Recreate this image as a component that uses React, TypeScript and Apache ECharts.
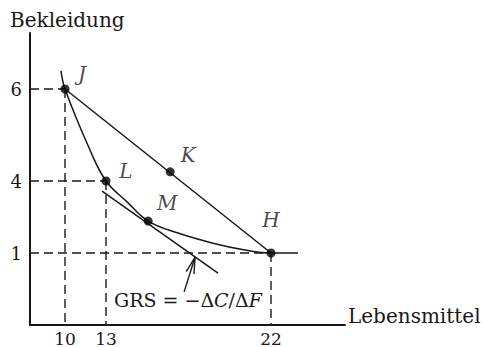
import React, { useEffect, useRef } from 'react';
import * as echarts from 'echarts';

// ---- Data (economic units) ----
const xTickValues = [10, 13, 22];
const yTickValues = [6, 4, 1];
const xAxisName = 'Lebensmittel';
const yAxisName = 'Bekleidung';

const pointNames = ['J', 'K', 'L', 'M', 'H'];
const pointX = [10, 16.5, 13, 15.3, 22];
const pointY = [6, 4.2, 4, 2.33, 1];

// points with dashed guides to both axes
const guideNames = ['J', 'L', 'H'];

// indifference curve
const curveX = [8.86, 10, 11.7, 13, 14.15, 15.3, 16.93, 18.78, 20.58, 22, 23.47];
const curveY = [6.39, 6, 4.76, 4, 3.13, 2.33, 1.83, 1.42, 1.125, 1, 1];

// tangent at M
const tangentX = [12.71, 19.11];
const tangentY = [3.58, 0.72];

// annotation arrow (tail -> tip)
const arrowX = [17.26, 17.86];
const arrowY = [0.46, 0.944];
const annotationPos = [17.47, 0.35];

// The original diagram is not drawn to scale: piecewise scale (value -> axis position)
const xScaleIn = [0, 10, 13, 22, 26.04];
const xScaleOut = [0, 35, 76, 241, 315];
const yScaleIn = [0, 1, 4, 6, 7.2];
const yScaleOut = [0, 72, 144, 236, 292];

function warp(v: number, ins: number[], outs: number[]): number {
  for (let i = 0; i < ins.length - 1; i++) {
    if (v <= ins[i + 1] || i === ins.length - 2) {
      const t = (v - ins[i]) / (ins[i + 1] - ins[i]);
      return outs[i] + t * (outs[i + 1] - outs[i]);
    }
  }
  return outs[outs.length - 1];
}
const sx = (v: number) => warp(v, xScaleIn, xScaleOut);
const sy = (v: number) => warp(v, yScaleIn, yScaleOut);

const INK = '#1a1718';
const FONT = 'DejaVu Serif';

const labelOffsets: Record<string, [number, number]> = {
  J: [17, -15],
  K: [18, -17],
  L: [20, -10],
  M: [19, -18],
  H: [0, -33],
};

function nearestLabel(v: number, ticks: number[], scale: (n: number) => number) {
  let best = ticks[0];
  let bd = Infinity;
  for (const t of ticks) {
    const d = Math.abs(scale(t) - v);
    if (d < bd) { bd = d; best = t; }
  }
  return String(best);
}

export default function App() {
  const ref = useRef<HTMLDivElement>(null);
  useEffect(() => {
    if (!ref.current) return;
    const chart = echarts.init(ref.current, undefined, { renderer: 'svg' });

    const dashStyle = { color: INK, width: 1.4, type: [9, 5] as number[] };
    const guideSeries: any[] = [];
    guideNames.forEach((n) => {
      const i = pointNames.indexOf(n);
      const px = sx(pointX[i]);
      const py = sy(pointY[i]);
      guideSeries.push({
        type: 'line', silent: true, symbol: 'none', z: 1,
        lineStyle: dashStyle,
        data: [[sx(0), py], [px, py]],
      });
      guideSeries.push({
        type: 'line', silent: true, symbol: 'none', z: 1,
        lineStyle: dashStyle,
        data: [[px, py], [px, sy(0)]],
      });
    });

    const iJ = pointNames.indexOf('J');
    const iH = pointNames.indexOf('H');

    chart.setOption({
      animation: false,
      backgroundColor: '#ffffff',
      grid: { left: 30, top: 33, right: 137, bottom: 22, containLabel: false, outerBoundsMode: 'none' },
      xAxis: {
        type: 'value', min: 0, max: 315,
        axisLine: { show: true, lineStyle: { color: INK, width: 2 } },
        axisTick: { show: false },
        splitLine: { show: false },
        axisLabel: {
          customValues: xTickValues.map(sx),
          formatter: (v: number) => nearestLabel(v, xTickValues, sx),
          fontFamily: FONT, fontSize: 17, color: INK, margin: 5,
        },
      },
      yAxis: {
        type: 'value', min: 0, max: 292,
        axisLine: { show: true, lineStyle: { color: INK, width: 2 } },
        axisTick: { show: false },
        splitLine: { show: false },
        axisLabel: {
          customValues: yTickValues.map(sy),
          formatter: (v: number) => nearestLabel(v, yTickValues, sy),
          fontFamily: FONT, fontSize: 18, color: INK, margin: 8,
        },
      },
      graphic: [
        {
          type: 'text', left: 10, top: 10,
          style: { text: yAxisName, fontFamily: FONT, fontSize: 20, fill: INK },
        },
        {
          type: 'text', left: 348, top: 306,
          style: { text: xAxisName, fontFamily: FONT, fontSize: 20, fill: INK },
        },
      ],
      series: [
        ...guideSeries,
        {
          type: 'line', silent: true, symbol: 'none', z: 2,
          lineStyle: { color: INK, width: 1.5 },
          data: [[sx(pointX[iJ]), sy(pointY[iJ])], [sx(pointX[iH]), sy(pointY[iH])]],
        },
        {
          type: 'line', silent: true, symbol: 'none', z: 2,
          lineStyle: { color: INK, width: 1.5 },
          data: tangentX.map((x, i) => [sx(x), sy(tangentY[i])]),
        },
        {
          type: 'line', silent: true, symbol: 'none', z: 2,
          smooth: 0.4,
          lineStyle: { color: INK, width: 1.5 },
          data: curveX.map((x, i) => [sx(x), sy(curveY[i])]),
        },
        {
          type: 'scatter', silent: true, z: 5,
          symbolSize: 9,
          itemStyle: { color: '#000000' },
          data: pointNames.map((n, i) => ({
            name: n,
            value: [sx(pointX[i]), sy(pointY[i])],
            label: {
              show: true, position: 'inside', offset: labelOffsets[n],
              formatter: n, fontFamily: FONT, fontStyle: 'italic', fontSize: 20, color: INK,
            },
          })),
        },
        {
          type: 'custom', silent: true, z: 6,
          renderItem: (params: any, api: any) => {
            const tail = api.coord([sx(arrowX[0]), sy(arrowY[0])]);
            const tip = api.coord([sx(arrowX[1]), sy(arrowY[1])]);
            const ang = Math.atan2(tail[1] - tip[1], tail[0] - tip[0]);
            const L = 17;
            const a = 0.24;
            const b1 = [tip[0] + L * Math.cos(ang - a), tip[1] + L * Math.sin(ang - a)];
            const b2 = [tip[0] + L * Math.cos(ang + a), tip[1] + L * Math.sin(ang + a)];
            const tp = api.coord([sx(annotationPos[0]), sy(annotationPos[1])]);
            const stroke = { stroke: INK, lineWidth: 1.4, fill: null };
            return {
              type: 'group',
              children: [
                { type: 'line', shape: { x1: tail[0], y1: tail[1], x2: tip[0], y2: tip[1] }, style: stroke },
                { type: 'polyline', shape: { points: [b1, tip, b2] }, style: stroke },
                {
                  type: 'text',
                  x: tp[0], y: tp[1],
                  style: {
                    text: '{n|GRS = −Δ}{i|C}{n|/Δ}{i|F}',
                    align: 'center', verticalAlign: 'middle',
                    fill: INK,
                    rich: {
                      n: { fontFamily: FONT, fontSize: 19, fill: INK },
                      i: { fontFamily: FONT, fontSize: 19, fontStyle: 'italic', fill: INK },
                    },
                  },
                },
              ],
            };
          },
          data: [[0]],
        },
      ],
    });
    return () => chart.dispose();
  }, []);
  return (
    <div
      ref={ref}
      style={{ position: 'fixed', left: 0, top: 0, width: 482, height: 347, background: '#ffffff' }}
    />
  );
}
